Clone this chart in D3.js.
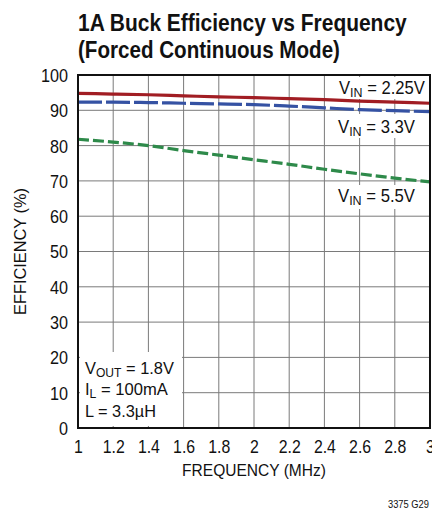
<!DOCTYPE html>
<html>
<head>
<meta charset="utf-8">
<script src="https://cdn.jsdelivr.net/npm/d3@7"></script>
<style>
  html, body { margin: 0; padding: 0; background: #fff; }
  svg { display: block; }
  text { font-family: "Liberation Sans", Arial, sans-serif; fill: #111; }
</style>
</head>
<body>
<svg id="chart" width="432" height="514"></svg>
<script>
// Frequency points (MHz)
const freq = [1, 1.2, 1.4, 1.6, 1.8, 2, 2.2, 2.4, 2.6, 2.8, 3];
// Efficiency (%) per input voltage
const effVin225 = [94.8, 94.6, 94.4, 94.1, 93.8, 93.6, 93.3, 93.0, 92.6, 92.3, 92.0];
const effVin33  = [92.3, 92.3, 92.2, 92.0, 91.8, 91.6, 91.2, 90.7, 90.2, 89.9, 89.6];
const effVin55  = [81.8, 81.0, 80.0, 78.6, 77.3, 76.0, 74.7, 73.3, 72.0, 70.8, 69.7];
// Tick labels
const xTicks = [1, 1.2, 1.4, 1.6, 1.8, 2, 2.2, 2.4, 2.6, 2.8, 3];
const yTicks = [0, 10, 20, 30, 40, 50, 60, 70, 80, 90, 100];

const svg = d3.select("#chart");
const L = 78, R = 430, T = 75, B = 428;

const x = d3.scaleLinear().domain([1, 3]).range([L, R]);
const y = d3.scaleLinear().domain([0, 100]).range([B, T]);

// Place a text at (px, py) squeezed horizontally to a given width (narrow typeface look)
function fitText(sel, px, py, width, rotate) {
  const len = sel.node().getComputedTextLength();
  const sx = width / len;
  sel.attr("x", 0).attr("y", 0)
     .attr("transform", `translate(${px},${py})${rotate ? " rotate(" + rotate + ")" : ""} scale(${sx},1)`);
  return sel;
}

// Title
fitText(svg.append("text").style("font-size", "24px").style("font-weight", "bold")
  .text("1A Buck Efficiency vs Frequency"), 78, 31, 329);
fitText(svg.append("text").style("font-size", "24px").style("font-weight", "bold")
  .text("(Forced Continuous Mode)"), 78, 58, 262);

// Grid
const grid = svg.append("g");
grid.selectAll(".gx").data(xTicks.slice(1, -1)).join("line")
  .attr("x1", d => x(d)).attr("x2", d => x(d)).attr("y1", T).attr("y2", B)
  .attr("stroke", "#7a7a7a").attr("stroke-width", 1);
grid.selectAll(".gy").data(yTicks.slice(1, -1)).join("line")
  .attr("y1", d => y(d)).attr("y2", d => y(d)).attr("x1", L).attr("x2", R)
  .attr("stroke", "#7a7a7a").attr("stroke-width", 1);

// Axes (labels only; frame drawn separately)
const xAxis = svg.append("g").attr("transform", `translate(0,${B})`)
  .call(d3.axisBottom(x).tickValues(xTicks).tickSize(0).tickPadding(12).tickFormat(d3.format("")));
const yAxis = svg.append("g").attr("transform", `translate(${L},0)`)
  .call(d3.axisLeft(y).tickValues(yTicks).tickSize(0).tickPadding(10));
[xAxis, yAxis].forEach(a => {
  a.select(".domain").remove();
  a.selectAll("text").style("font-size", "18px")
    .style("font-family", '"Liberation Sans", Arial, sans-serif').attr("fill", "#111");
});
xAxis.selectAll("text").attr("transform", "scale(0.88,1)");
yAxis.selectAll("text").attr("dy", "0.36em").attr("x", -10 / 0.9).attr("transform", "scale(0.9,1)");

// Axis titles
fitText(svg.append("text").attr("text-anchor", "middle").style("font-size", "16.5px")
  .text("FREQUENCY (MHz)"), 254, 476, 144);
fitText(svg.append("text").attr("text-anchor", "middle").style("font-size", "17px")
  .text("EFFICIENCY (%)"), 26, 251.5, 127, -90);

// Label backgrounds (clear the grid behind annotations)
const bg = [[334, 77, 94, 22], [335, 114, 84, 24], [335, 185, 84, 24], [80, 352, 102, 74]];
svg.selectAll(".bg").data(bg).join("rect")
  .attr("x", d => d[0]).attr("y", d => d[1]).attr("width", d => d[2]).attr("height", d => d[3])
  .attr("fill", "#fff");

// Curves
const line = d3.line().x(d => x(d[0])).y(d => y(d[1])).curve(d3.curveMonotoneX);
const series = [
  { v: effVin225, color: "#a11d23", dash: null },
  { v: effVin33,  color: "#3552a3", dash: "24 4" },
  { v: effVin55,  color: "#2e8a4a", dash: "11 4" }
];
series.forEach(s => {
  svg.append("path").datum(freq.map((f, i) => [f, s.v[i]]))
    .attr("d", line).attr("fill", "none").attr("stroke", s.color)
    .attr("stroke-width", 3.2).attr("stroke-dasharray", s.dash);
});

// Frame
svg.append("rect").attr("x", L).attr("y", T).attr("width", R - L).attr("height", B - T)
  .attr("fill", "none").attr("stroke", "#111").attr("stroke-width", 2);

// Text with a subscript part: main + sub + rest
function subText(px, py, width, main, sub, rest, size) {
  const fs = size || 18;
  const t = svg.append("text").style("font-size", fs + "px");
  t.append("tspan").text(main);
  t.append("tspan").attr("dy", 3).style("font-size", (fs - 4.5) + "px").text(sub);
  t.append("tspan").attr("dy", -3).text(rest);
  return fitText(t, px, py, width);
}
subText(339, 94, 86, "V", "IN", " = 2.25V");
subText(338, 132.5, 77, "V", "IN", " = 3.3V");
subText(338, 201.5, 77, "V", "IN", " = 5.5V");

subText(85, 373.5, 89, "V", "OUT", " = 1.8V", 17);
subText(85, 395, 83, "I", "L", " = 100mA", 17);
fitText(svg.append("text").style("font-size", "17px").text("L = 3.3µH"), 85, 416.5, 71);

fitText(svg.append("text").style("font-size", "11px").text("3375 G29"), 388, 508, 41);
</script>
</body>
</html>
